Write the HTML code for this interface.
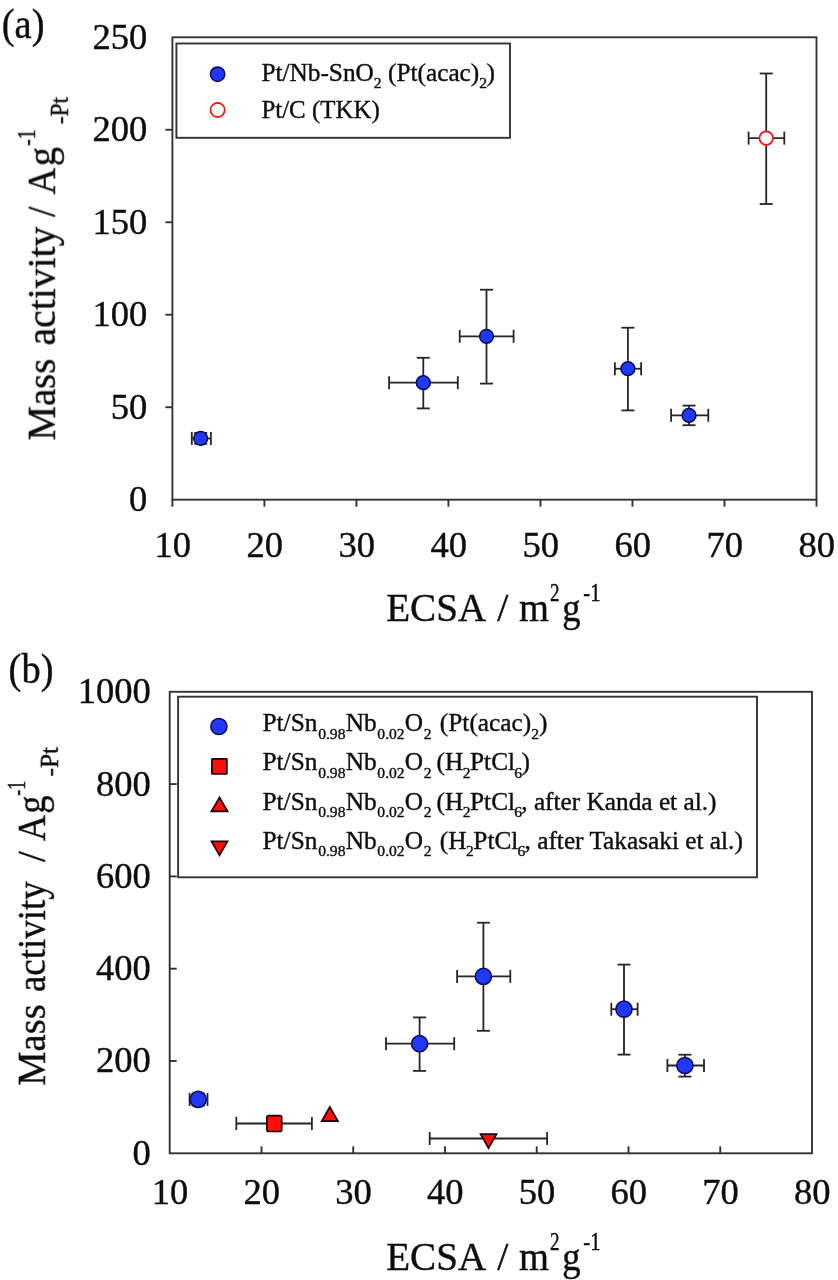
<!DOCTYPE html>
<html><head><meta charset="utf-8"><title>Mass activity vs ECSA</title>
<style>
html,body{margin:0;padding:0;background:#fff;}
body{width:838px;height:1280px;overflow:hidden;}
svg{display:block;}
svg text{font-family:"Liberation Serif",serif;fill:#111;stroke:#111;stroke-width:0.4px;stroke-linejoin:round;}
</style></head><body>
<svg width="838" height="1280" viewBox="0 0 838 1280">
<defs><filter id="soft" x="0" y="0" width="838" height="1280" filterUnits="userSpaceOnUse"><feGaussianBlur stdDeviation="0.45"/></filter></defs>
<rect width="838" height="1280" fill="#fff"/>
<g filter="url(#soft)">
<rect x="172.4" y="37.3" width="644.10" height="462.40" fill="none" stroke="#333333" stroke-width="1.9"/>
<line x1="172.40" y1="499.70" x2="172.40" y2="506.70" stroke="#333333" stroke-width="1.9"/>
<text transform="translate(172.70,557.30) scale(1.03,1)" font-size="35.5" text-anchor="middle" >10</text>
<line x1="264.41" y1="499.70" x2="264.41" y2="506.70" stroke="#333333" stroke-width="1.9"/>
<text transform="translate(264.71,557.30) scale(1.03,1)" font-size="35.5" text-anchor="middle" >20</text>
<line x1="356.43" y1="499.70" x2="356.43" y2="506.70" stroke="#333333" stroke-width="1.9"/>
<text transform="translate(356.73,557.30) scale(1.03,1)" font-size="35.5" text-anchor="middle" >30</text>
<line x1="448.44" y1="499.70" x2="448.44" y2="506.70" stroke="#333333" stroke-width="1.9"/>
<text transform="translate(448.74,557.30) scale(1.03,1)" font-size="35.5" text-anchor="middle" >40</text>
<line x1="540.46" y1="499.70" x2="540.46" y2="506.70" stroke="#333333" stroke-width="1.9"/>
<text transform="translate(540.76,557.30) scale(1.03,1)" font-size="35.5" text-anchor="middle" >50</text>
<line x1="632.47" y1="499.70" x2="632.47" y2="506.70" stroke="#333333" stroke-width="1.9"/>
<text transform="translate(632.77,557.30) scale(1.03,1)" font-size="35.5" text-anchor="middle" >60</text>
<line x1="724.49" y1="499.70" x2="724.49" y2="506.70" stroke="#333333" stroke-width="1.9"/>
<text transform="translate(724.79,557.30) scale(1.03,1)" font-size="35.5" text-anchor="middle" >70</text>
<line x1="816.50" y1="499.70" x2="816.50" y2="506.70" stroke="#333333" stroke-width="1.9"/>
<text transform="translate(816.80,557.30) scale(1.03,1)" font-size="35.5" text-anchor="middle" >80</text>
<text transform="translate(147.30,511.10) scale(1.03,1)" font-size="35.5" text-anchor="end" >0</text>
<line x1="165.40" y1="407.22" x2="172.40" y2="407.22" stroke="#333333" stroke-width="1.9"/>
<text transform="translate(147.30,418.62) scale(1.03,1)" font-size="35.5" text-anchor="end" >50</text>
<line x1="165.40" y1="314.74" x2="172.40" y2="314.74" stroke="#333333" stroke-width="1.9"/>
<text transform="translate(147.30,326.14) scale(1.03,1)" font-size="35.5" text-anchor="end" >100</text>
<line x1="165.40" y1="222.26" x2="172.40" y2="222.26" stroke="#333333" stroke-width="1.9"/>
<text transform="translate(147.30,233.66) scale(1.03,1)" font-size="35.5" text-anchor="end" >150</text>
<line x1="165.40" y1="129.78" x2="172.40" y2="129.78" stroke="#333333" stroke-width="1.9"/>
<text transform="translate(147.30,141.18) scale(1.03,1)" font-size="35.5" text-anchor="end" >200</text>
<text transform="translate(147.30,48.70) scale(1.03,1)" font-size="35.5" text-anchor="end" >250</text>
<rect x="176.4" y="43.5" width="333.6" height="94.3" fill="#fff" stroke="#333333" stroke-width="1.9"/>
<circle cx="217.60" cy="74.20" r="7.2" fill="#2038f8" stroke="#060c55" stroke-width="1.5"/>
<circle cx="217.60" cy="110.00" r="7.1" fill="#fff" stroke="#ff0a0a" stroke-width="1.7"/>
<text transform="translate(261.40,81.00) scale(1.0,1)" font-size="25.3" text-anchor="start" ><tspan>Pt/Nb-SnO</tspan><tspan dy="7.4" font-size="15.6">2</tspan><tspan dy="-7.4"> (Pt(acac)</tspan><tspan dy="7.4" font-size="15.6">2</tspan><tspan dy="-7.4" dx="-0.5">)</tspan></text>
<text transform="translate(261.40,118.30) scale(0.985,1)" font-size="25.3" text-anchor="start" >Pt/C (TKK)</text>
<line x1="191.80" y1="438.40" x2="210.90" y2="438.40" stroke="#262626" stroke-width="1.8"/>
<line x1="191.80" y1="431.90" x2="191.80" y2="444.90" stroke="#262626" stroke-width="1.8"/>
<line x1="210.90" y1="431.90" x2="210.90" y2="444.90" stroke="#262626" stroke-width="1.8"/>
<line x1="200.70" y1="432.90" x2="200.70" y2="443.90" stroke="#262626" stroke-width="1.8"/>
<line x1="194.20" y1="432.90" x2="207.20" y2="432.90" stroke="#262626" stroke-width="1.8"/>
<line x1="194.20" y1="443.90" x2="207.20" y2="443.90" stroke="#262626" stroke-width="1.8"/>
<circle cx="200.70" cy="438.40" r="6.9" fill="#2038f8" stroke="#060c55" stroke-width="1.5"/>
<line x1="389.10" y1="382.70" x2="457.80" y2="382.70" stroke="#262626" stroke-width="1.8"/>
<line x1="389.10" y1="376.20" x2="389.10" y2="389.20" stroke="#262626" stroke-width="1.8"/>
<line x1="457.80" y1="376.20" x2="457.80" y2="389.20" stroke="#262626" stroke-width="1.8"/>
<line x1="423.30" y1="357.80" x2="423.30" y2="408.40" stroke="#262626" stroke-width="1.8"/>
<line x1="416.80" y1="357.80" x2="429.80" y2="357.80" stroke="#262626" stroke-width="1.8"/>
<line x1="416.80" y1="408.40" x2="429.80" y2="408.40" stroke="#262626" stroke-width="1.8"/>
<circle cx="423.30" cy="382.70" r="6.9" fill="#2038f8" stroke="#060c55" stroke-width="1.5"/>
<line x1="459.70" y1="336.30" x2="513.60" y2="336.30" stroke="#262626" stroke-width="1.8"/>
<line x1="459.70" y1="329.80" x2="459.70" y2="342.80" stroke="#262626" stroke-width="1.8"/>
<line x1="513.60" y1="329.80" x2="513.60" y2="342.80" stroke="#262626" stroke-width="1.8"/>
<line x1="486.50" y1="289.70" x2="486.50" y2="383.60" stroke="#262626" stroke-width="1.8"/>
<line x1="480.00" y1="289.70" x2="493.00" y2="289.70" stroke="#262626" stroke-width="1.8"/>
<line x1="480.00" y1="383.60" x2="493.00" y2="383.60" stroke="#262626" stroke-width="1.8"/>
<circle cx="486.50" cy="336.30" r="6.9" fill="#2038f8" stroke="#060c55" stroke-width="1.5"/>
<line x1="614.90" y1="368.70" x2="641.10" y2="368.70" stroke="#262626" stroke-width="1.8"/>
<line x1="614.90" y1="362.20" x2="614.90" y2="375.20" stroke="#262626" stroke-width="1.8"/>
<line x1="641.10" y1="362.20" x2="641.10" y2="375.20" stroke="#262626" stroke-width="1.8"/>
<line x1="627.90" y1="327.70" x2="627.90" y2="410.40" stroke="#262626" stroke-width="1.8"/>
<line x1="621.40" y1="327.70" x2="634.40" y2="327.70" stroke="#262626" stroke-width="1.8"/>
<line x1="621.40" y1="410.40" x2="634.40" y2="410.40" stroke="#262626" stroke-width="1.8"/>
<circle cx="627.90" cy="368.70" r="6.9" fill="#2038f8" stroke="#060c55" stroke-width="1.5"/>
<line x1="671.10" y1="415.30" x2="708.30" y2="415.30" stroke="#262626" stroke-width="1.8"/>
<line x1="671.10" y1="408.80" x2="671.10" y2="421.80" stroke="#262626" stroke-width="1.8"/>
<line x1="708.30" y1="408.80" x2="708.30" y2="421.80" stroke="#262626" stroke-width="1.8"/>
<line x1="689.00" y1="405.60" x2="689.00" y2="425.20" stroke="#262626" stroke-width="1.8"/>
<line x1="682.50" y1="405.60" x2="695.50" y2="405.60" stroke="#262626" stroke-width="1.8"/>
<line x1="682.50" y1="425.20" x2="695.50" y2="425.20" stroke="#262626" stroke-width="1.8"/>
<circle cx="689.00" cy="415.30" r="6.9" fill="#2038f8" stroke="#060c55" stroke-width="1.5"/>
<line x1="748.60" y1="138.10" x2="784.30" y2="138.10" stroke="#262626" stroke-width="1.8"/>
<line x1="748.60" y1="131.60" x2="748.60" y2="144.60" stroke="#262626" stroke-width="1.8"/>
<line x1="784.30" y1="131.60" x2="784.30" y2="144.60" stroke="#262626" stroke-width="1.8"/>
<line x1="766.20" y1="73.50" x2="766.20" y2="204.00" stroke="#262626" stroke-width="1.8"/>
<line x1="759.70" y1="73.50" x2="772.70" y2="73.50" stroke="#262626" stroke-width="1.8"/>
<line x1="759.70" y1="204.00" x2="772.70" y2="204.00" stroke="#262626" stroke-width="1.8"/>
<circle cx="766.20" cy="138.10" r="6.8" fill="#fff" stroke="#ff0a0a" stroke-width="1.7"/>
<text transform="translate(1.70,38.30) scale(0.9180,1.0)" font-size="42">(a)</text>
<g transform="translate(0.00,0)">
<text transform="translate(386.20,621.20) scale(0.9963,1.0)" font-size="39.3">ECSA</text>
<text transform="translate(497.20,621.20) scale(1.0182,1.0)" font-size="39.3">/</text>
<text transform="translate(518.90,621.20) scale(0.9803,1.0)" font-size="39.3">m</text>
<text transform="translate(550.00,600.60) scale(0.7680,1.0)" font-size="25">2</text>
<text transform="translate(562.30,621.20) scale(0.9325,1.0)" font-size="39.3">g</text>
<text transform="translate(583.20,600.80) scale(0.8335,1.0)" font-size="25">-1</text>
</g>
<g transform="translate(54.9,440.7) rotate(-90)">
<text transform="translate(0.30,0.00) scale(0.9846,1.0)" font-size="39.3">Mass</text>
<text transform="translate(95.20,0.00) scale(1.0089,1.0)" font-size="39.3">activity</text>
<text transform="translate(223.70,0.00) scale(0.9545,1.0)" font-size="39.3">/</text>
<text transform="translate(246.20,0.00) scale(0.9374,1.0)" font-size="39.3">A</text>
<text transform="translate(274.50,0.00) scale(0.9783,1.0)" font-size="39.3">g</text>
<text transform="translate(295.00,-20.10) scale(0.7762,1.0)" font-size="25.3">-1</text>
<text transform="translate(316.50,13.40) scale(0.9254,1.0)" font-size="25.3">-Pt</text>
</g>
<rect x="169.7" y="691.8" width="642.30" height="461.50" fill="none" stroke="#333333" stroke-width="1.9"/>
<text transform="translate(170.00,1204.30) scale(1.03,1)" font-size="35.5" text-anchor="middle" >10</text>
<line x1="261.46" y1="1153.30" x2="261.46" y2="1146.30" stroke="#333333" stroke-width="1.9"/>
<text transform="translate(261.76,1204.30) scale(1.03,1)" font-size="35.5" text-anchor="middle" >20</text>
<line x1="353.21" y1="1153.30" x2="353.21" y2="1146.30" stroke="#333333" stroke-width="1.9"/>
<text transform="translate(353.51,1204.30) scale(1.03,1)" font-size="35.5" text-anchor="middle" >30</text>
<line x1="444.97" y1="1153.30" x2="444.97" y2="1146.30" stroke="#333333" stroke-width="1.9"/>
<text transform="translate(445.27,1204.30) scale(1.03,1)" font-size="35.5" text-anchor="middle" >40</text>
<line x1="536.73" y1="1153.30" x2="536.73" y2="1146.30" stroke="#333333" stroke-width="1.9"/>
<text transform="translate(537.03,1204.30) scale(1.03,1)" font-size="35.5" text-anchor="middle" >50</text>
<line x1="628.49" y1="1153.30" x2="628.49" y2="1146.30" stroke="#333333" stroke-width="1.9"/>
<text transform="translate(628.79,1204.30) scale(1.03,1)" font-size="35.5" text-anchor="middle" >60</text>
<line x1="720.24" y1="1153.30" x2="720.24" y2="1146.30" stroke="#333333" stroke-width="1.9"/>
<text transform="translate(720.54,1204.30) scale(1.03,1)" font-size="35.5" text-anchor="middle" >70</text>
<text transform="translate(812.30,1204.30) scale(1.03,1)" font-size="35.5" text-anchor="middle" >80</text>
<text transform="translate(150.80,1164.70) scale(1.03,1)" font-size="35.5" text-anchor="end" >0</text>
<line x1="169.70" y1="1061.00" x2="176.70" y2="1061.00" stroke="#333333" stroke-width="1.9"/>
<text transform="translate(150.80,1072.40) scale(1.03,1)" font-size="35.5" text-anchor="end" >200</text>
<line x1="169.70" y1="968.70" x2="176.70" y2="968.70" stroke="#333333" stroke-width="1.9"/>
<text transform="translate(150.80,980.10) scale(1.03,1)" font-size="35.5" text-anchor="end" >400</text>
<line x1="169.70" y1="876.40" x2="176.70" y2="876.40" stroke="#333333" stroke-width="1.9"/>
<text transform="translate(150.80,887.80) scale(1.03,1)" font-size="35.5" text-anchor="end" >600</text>
<line x1="169.70" y1="784.10" x2="176.70" y2="784.10" stroke="#333333" stroke-width="1.9"/>
<text transform="translate(150.80,795.50) scale(1.03,1)" font-size="35.5" text-anchor="end" >800</text>
<text transform="translate(150.80,703.20) scale(1.03,1)" font-size="35.5" text-anchor="end" >1000</text>
<rect x="178.1" y="696.7" width="578.9" height="180.6" fill="#fff" stroke="#333333" stroke-width="1.9"/>
<circle cx="218.90" cy="726.50" r="8.1" fill="#2038f8" stroke="#060c55" stroke-width="1.5"/>
<rect x="211.95" y="758.95" width="14.9" height="14.9" rx="0.4" fill="#ff0a0a" stroke="#1c0000" stroke-width="1.7"/>
<path d="M219.50 797.53 L227.59 811.35 L211.41 811.35 Z" fill="#ff0a0a" stroke="#1c0000" stroke-width="1.7" stroke-linejoin="miter"/>
<path d="M219.50 855.37 L227.49 841.45 L211.51 841.45 Z" fill="#ff0a0a" stroke="#1c0000" stroke-width="1.7" stroke-linejoin="miter"/>
<text transform="translate(262.50,731.20) scale(1.0,1)" font-size="25.3" text-anchor="start" ><tspan>Pt/Sn</tspan><tspan dy="7.4" font-size="15.6" dx="0.8">0.98</tspan><tspan dy="-7.4" dx="0.4">Nb</tspan><tspan dy="7.4" font-size="15.6" dx="0.6">0.02</tspan><tspan dy="-7.4" dx="0.2">O</tspan><tspan dy="7.4" font-size="15.6" dx="0.6">2</tspan><tspan dy="-7.4"> </tspan><tspan dx="2.0">(Pt(acac)</tspan><tspan dy="7.4" font-size="15.6">2</tspan><tspan dy="-7.4">)</tspan></text>
<text transform="translate(262.50,770.40) scale(1.0,1)" font-size="25.3" text-anchor="start" ><tspan>Pt/Sn</tspan><tspan dy="7.4" font-size="15.6" dx="0.8">0.98</tspan><tspan dy="-7.4" dx="0.4">Nb</tspan><tspan dy="7.4" font-size="15.6" dx="0.6">0.02</tspan><tspan dy="-7.4" dx="0.2">O</tspan><tspan dy="7.4" font-size="15.6" dx="0.6">2</tspan><tspan dy="-7.4" dx="5.0">(H</tspan><tspan dy="7.4" font-size="15.6" dx="-0.5">2</tspan><tspan dy="-7.4" dx="-0.5">PtCl</tspan><tspan dy="7.4" font-size="15.6" dx="-0.8">6</tspan><tspan dy="-7.4" dx="-0.5">)</tspan></text>
<text transform="translate(262.50,809.80) scale(1.0,1)" font-size="25.3" text-anchor="start" ><tspan>Pt/Sn</tspan><tspan dy="7.4" font-size="15.6" dx="0.8">0.98</tspan><tspan dy="-7.4" dx="0.4">Nb</tspan><tspan dy="7.4" font-size="15.6" dx="0.6">0.02</tspan><tspan dy="-7.4" dx="0.2">O</tspan><tspan dy="7.4" font-size="15.6" dx="0.6">2</tspan><tspan dy="-7.4" dx="5.0">(H</tspan><tspan dy="7.4" font-size="15.6" dx="-0.5">2</tspan><tspan dy="-7.4" dx="-0.5">PtCl</tspan><tspan dy="7.4" font-size="15.6" dx="-0.8">6</tspan><tspan dy="-7.4" dx="-0.8">, after Kanda et al.)</tspan></text>
<text transform="translate(262.50,849.00) scale(1.0,1)" font-size="25.3" text-anchor="start" ><tspan>Pt/Sn</tspan><tspan dy="7.4" font-size="15.6" dx="0.8">0.98</tspan><tspan dy="-7.4" dx="0.4">Nb</tspan><tspan dy="7.4" font-size="15.6" dx="0.6">0.02</tspan><tspan dy="-7.4" dx="0.2">O</tspan><tspan dy="7.4" font-size="15.6" dx="0.6">2</tspan><tspan dy="-7.4"> </tspan><tspan dx="2.0">(H</tspan><tspan dy="7.4" font-size="15.6" dx="-0.5">2</tspan><tspan dy="-7.4" dx="-0.5">PtCl</tspan><tspan dy="7.4" font-size="15.6" dx="-0.8">6</tspan><tspan dy="-7.4" dx="-0.8">, after Takasaki et al.)</tspan></text>
<line x1="189.60" y1="1099.40" x2="207.50" y2="1099.40" stroke="#262626" stroke-width="1.8"/>
<line x1="189.60" y1="1092.90" x2="189.60" y2="1105.90" stroke="#262626" stroke-width="1.8"/>
<line x1="207.50" y1="1092.90" x2="207.50" y2="1105.90" stroke="#262626" stroke-width="1.8"/>
<line x1="198.20" y1="1093.50" x2="198.20" y2="1105.50" stroke="#262626" stroke-width="1.8"/>
<line x1="191.70" y1="1093.50" x2="204.70" y2="1093.50" stroke="#262626" stroke-width="1.8"/>
<line x1="191.70" y1="1105.50" x2="204.70" y2="1105.50" stroke="#262626" stroke-width="1.8"/>
<circle cx="198.20" cy="1099.40" r="8.1" fill="#2038f8" stroke="#060c55" stroke-width="1.5"/>
<line x1="236.30" y1="1123.50" x2="311.90" y2="1123.50" stroke="#262626" stroke-width="1.8"/>
<line x1="236.30" y1="1117.00" x2="236.30" y2="1130.00" stroke="#262626" stroke-width="1.8"/>
<line x1="311.90" y1="1117.00" x2="311.90" y2="1130.00" stroke="#262626" stroke-width="1.8"/>
<rect x="266.90" y="1115.70" width="14.8" height="15.8" rx="1.8" fill="#ff0a0a" stroke="#1c0000" stroke-width="1.7"/>
<path d="M329.80 1107.03 L337.88 1121.15 L321.72 1121.15 Z" fill="#ff0a0a" stroke="#1c0000" stroke-width="1.7" stroke-linejoin="miter"/>
<line x1="386.00" y1="1043.70" x2="454.20" y2="1043.70" stroke="#262626" stroke-width="1.8"/>
<line x1="386.00" y1="1037.20" x2="386.00" y2="1050.20" stroke="#262626" stroke-width="1.8"/>
<line x1="454.20" y1="1037.20" x2="454.20" y2="1050.20" stroke="#262626" stroke-width="1.8"/>
<line x1="419.60" y1="1017.40" x2="419.60" y2="1070.90" stroke="#262626" stroke-width="1.8"/>
<line x1="413.10" y1="1017.40" x2="426.10" y2="1017.40" stroke="#262626" stroke-width="1.8"/>
<line x1="413.10" y1="1070.90" x2="426.10" y2="1070.90" stroke="#262626" stroke-width="1.8"/>
<circle cx="419.60" cy="1043.70" r="8.1" fill="#2038f8" stroke="#060c55" stroke-width="1.5"/>
<line x1="457.10" y1="976.40" x2="510.30" y2="976.40" stroke="#262626" stroke-width="1.8"/>
<line x1="457.10" y1="969.90" x2="457.10" y2="982.90" stroke="#262626" stroke-width="1.8"/>
<line x1="510.30" y1="969.90" x2="510.30" y2="982.90" stroke="#262626" stroke-width="1.8"/>
<line x1="483.40" y1="922.70" x2="483.40" y2="1030.80" stroke="#262626" stroke-width="1.8"/>
<line x1="476.90" y1="922.70" x2="489.90" y2="922.70" stroke="#262626" stroke-width="1.8"/>
<line x1="476.90" y1="1030.80" x2="489.90" y2="1030.80" stroke="#262626" stroke-width="1.8"/>
<circle cx="483.40" cy="976.40" r="8.1" fill="#2038f8" stroke="#060c55" stroke-width="1.5"/>
<line x1="429.70" y1="1138.50" x2="547.10" y2="1138.50" stroke="#262626" stroke-width="1.8"/>
<line x1="429.70" y1="1132.00" x2="429.70" y2="1145.00" stroke="#262626" stroke-width="1.8"/>
<line x1="547.10" y1="1132.00" x2="547.10" y2="1145.00" stroke="#262626" stroke-width="1.8"/>
<path d="M488.60 1148.17 L496.59 1134.15 L480.62 1134.15 Z" fill="#ff0a0a" stroke="#1c0000" stroke-width="1.7" stroke-linejoin="miter"/>
<line x1="611.30" y1="1009.20" x2="637.60" y2="1009.20" stroke="#262626" stroke-width="1.8"/>
<line x1="611.30" y1="1002.70" x2="611.30" y2="1015.70" stroke="#262626" stroke-width="1.8"/>
<line x1="637.60" y1="1002.70" x2="637.60" y2="1015.70" stroke="#262626" stroke-width="1.8"/>
<line x1="624.00" y1="964.60" x2="624.00" y2="1054.60" stroke="#262626" stroke-width="1.8"/>
<line x1="617.50" y1="964.60" x2="630.50" y2="964.60" stroke="#262626" stroke-width="1.8"/>
<line x1="617.50" y1="1054.60" x2="630.50" y2="1054.60" stroke="#262626" stroke-width="1.8"/>
<circle cx="624.00" cy="1009.20" r="8.1" fill="#2038f8" stroke="#060c55" stroke-width="1.5"/>
<line x1="667.40" y1="1065.50" x2="704.00" y2="1065.50" stroke="#262626" stroke-width="1.8"/>
<line x1="667.40" y1="1059.00" x2="667.40" y2="1072.00" stroke="#262626" stroke-width="1.8"/>
<line x1="704.00" y1="1059.00" x2="704.00" y2="1072.00" stroke="#262626" stroke-width="1.8"/>
<line x1="684.90" y1="1054.70" x2="684.90" y2="1076.60" stroke="#262626" stroke-width="1.8"/>
<line x1="678.40" y1="1054.70" x2="691.40" y2="1054.70" stroke="#262626" stroke-width="1.8"/>
<line x1="678.40" y1="1076.60" x2="691.40" y2="1076.60" stroke="#262626" stroke-width="1.8"/>
<circle cx="684.90" cy="1065.50" r="8.1" fill="#2038f8" stroke="#060c55" stroke-width="1.5"/>
<text transform="translate(8.60,683.00) scale(0.9163,1.0)" font-size="42">(b)</text>
<g transform="translate(0.00,0)">
<text transform="translate(386.20,1270.30) scale(0.9963,1.0)" font-size="39.3">ECSA</text>
<text transform="translate(497.20,1270.30) scale(1.0182,1.0)" font-size="39.3">/</text>
<text transform="translate(518.90,1270.30) scale(0.9803,1.0)" font-size="39.3">m</text>
<text transform="translate(550.00,1249.70) scale(0.7680,1.0)" font-size="25">2</text>
<text transform="translate(562.30,1270.30) scale(0.9325,1.0)" font-size="39.3">g</text>
<text transform="translate(583.20,1249.90) scale(0.8335,1.0)" font-size="25">-1</text>
</g>
<g transform="translate(44.9,1086.0) rotate(-90)">
<text transform="translate(0.30,0.00) scale(0.9810,1.0)" font-size="39.3">Mass</text>
<text transform="translate(93.90,0.00) scale(0.9401,1.0)" font-size="39.3">activity</text>
<text transform="translate(224.00,0.00) scale(0.9909,1.0)" font-size="39.3">/</text>
<text transform="translate(245.00,0.00) scale(0.9128,1.0)" font-size="39.3">A</text>
<text transform="translate(272.20,0.00) scale(0.9274,1.0)" font-size="39.3">g</text>
<text transform="translate(290.30,-19.60) scale(0.7095,1.0)" font-size="25.3">-1</text>
<text transform="translate(309.40,12.90) scale(1.0068,1.0)" font-size="25.3">-Pt</text>
</g>
</g>
</svg>
</body></html>
